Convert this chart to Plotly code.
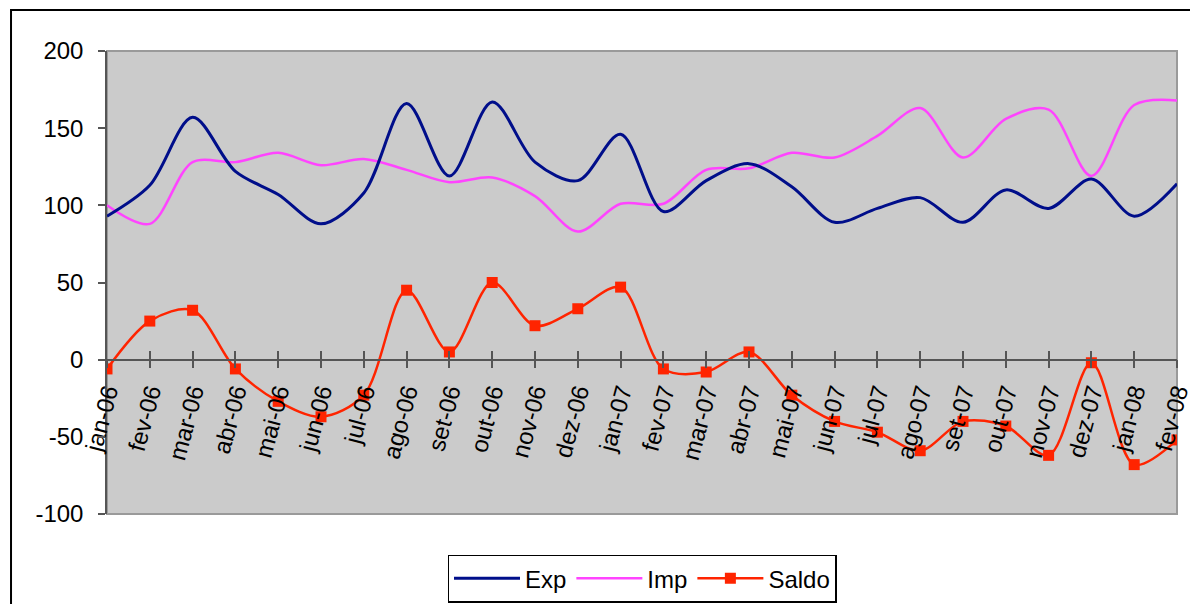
import plotly.graph_objects as go

months = ['jan-06', 'fev-06', 'mar-06', 'abr-06', 'mai-06', 'jun-06', 'jul-06', 'ago-06',
          'set-06', 'out-06', 'nov-06', 'dez-06', 'jan-07', 'fev-07', 'mar-07', 'abr-07',
          'mai-07', 'jun-07', 'jul-07', 'ago-07', 'set-07', 'out-07', 'nov-07', 'dez-07',
          'jan-08', 'fev-08']
exp_vals = [93, 113, 157, 122, 107, 88, 108, 166, 119, 167, 128, 116, 146, 96, 116, 127,
            112, 89, 98, 105, 89, 110, 98, 117, 93, 114]
imp_vals = [100, 88, 128, 128, 134, 126, 130, 123, 115, 118, 106, 83, 101, 101, 123, 124,
            134, 131, 145, 163, 131, 156, 162, 119, 165, 168]
saldo_vals = [-6, 25, 32, -6, -27, -37, -23, 45, 5, 50, 22, 33, 47, -6, -8, 5,
              -23, -40, -47, -59, -40, -43, -62, -2, -68, -52]
y_ticks = [-100, -50, 0, 50, 100, 150, 200]

FONT = "Arial, 'Liberation Sans', sans-serif"
FS = 24

fig = go.Figure()
fig.add_trace(go.Scatter(x=months, y=exp_vals, name='Exp', mode='lines',
                         line=dict(color='#000E8A', width=3, shape='spline', smoothing=0.9),
                         xaxis='x2', yaxis='y'))
fig.add_trace(go.Scatter(x=months, y=imp_vals, name='Imp', mode='lines',
                         line=dict(color='#FF44FF', width=2.5, shape='spline', smoothing=0.9)))
fig.add_trace(go.Scatter(x=months, y=saldo_vals, name='Saldo', mode='lines+markers',
                         line=dict(color='#FF2400', width=2.5, shape='spline', smoothing=0.9),
                         marker=dict(symbol='square', size=11, color='#FF2400')))

y0_frac = (0 - y_ticks[0]) / (y_ticks[-1] - y_ticks[0])

common_x = dict(type='category', categoryorder='array', categoryarray=months,
                range=[0, len(months) - 1], showgrid=False, zeroline=False,
                anchor='free', position=y0_frac, showline=True, automargin=False,
                linecolor='#555555', linewidth=1.5, tickcolor='#555555',
                tickwidth=1.5, ticklen=8)

# the page body has an 8px default margin; the figure is sized to fit inside it
fig.update_layout(
    width=1190, height=596,
    paper_bgcolor='white', plot_bgcolor='#CBCBCB',
    margin=dict(l=99, r=21, t=43, b=90, autoexpand=False),
    font=dict(family=FONT, size=FS, color='black'),
    xaxis=dict(**common_x, ticks='outside', showticklabels=True, tickangle=-75,
               tickfont=dict(family=FONT, size=FS, color='black')),
    xaxis2=dict(**common_x, overlaying='x', ticks='inside', showticklabels=False),
    yaxis=dict(range=[y_ticks[0], y_ticks[-1]], tickmode='array', tickvals=y_ticks,
               ticktext=[str(v) for v in y_ticks], showgrid=False, zeroline=False,
               automargin=False,
               showline=True, linecolor='#555555', linewidth=1.5,
               ticks='outside', ticklen=7, tickcolor='#555555', tickwidth=1.5,
               ticklabelstandoff=10,
               tickfont=dict(family=FONT, size=FS, color='black')),
    showlegend=True,
    legend=dict(orientation='h', x=0.5, xanchor='center', y=-0.088, yanchor='top',
                bordercolor='black', borderwidth=1.5, bgcolor='white',
                font=dict(family=FONT, size=FS, color='black'),
                itemwidth=66, tracegroupgap=0),
    shapes=[
        dict(type='rect', xref='paper', yref='paper', x0=0, x1=1, y0=0, y1=1,
             line=dict(color='#9A9A9A', width=2), layer='below'),
        dict(type='rect', xref='paper', yref='paper', x0=-0.0897, x1=1.05,
             y0=-0.25, y1=1.0886, line=dict(color='black', width=2),
             fillcolor='rgba(0,0,0,0)', layer='above'),
    ],
)

fig.write_html("out.html")
